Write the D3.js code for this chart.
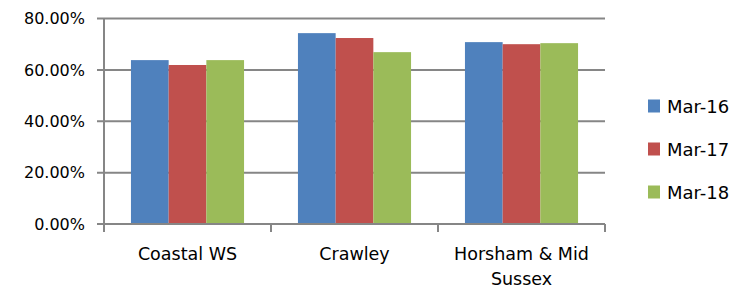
<!DOCTYPE html>
<html><head><meta charset="utf-8">
<script src="https://cdn.jsdelivr.net/npm/d3@7"></script>
<style>body{margin:0;background:#fff}svg{display:block}text{font-family:"DejaVu Sans",sans-serif;fill:#000}</style>
</head><body>
<svg id="c" width="734" height="288"></svg>
<script>
const categories = ["Coastal WS", "Crawley", "Horsham & Mid Sussex"];
const categoryLines = [["Coastal WS"], ["Crawley"], ["Horsham & Mid", "Sussex"]];
const seriesNames = ["Mar-16", "Mar-17", "Mar-18"];
const mar16 = [63.8, 74.3, 70.8];
const mar17 = [61.9, 72.4, 70.0];
const mar18 = [63.8, 66.9, 70.4];
const seriesValues = [mar16, mar17, mar18];
const colors = ["#4F81BD", "#C0504D", "#9BBB59"];
const yTicks = [0, 20, 40, 60, 80];

(function () {
const svg = d3.select("#c");
const pLeft = 104, pRight = 605, pTop = 18.5, pBottom = 224;
const grey = "#868686";

const x0 = d3.scaleBand().domain(categories).range([pLeft, pRight]).padding(0);
const x1 = d3.scaleBand().domain(seriesNames).range([0, x0.bandwidth()]).paddingInner(0).paddingOuter(0.715);
const y = d3.scaleLinear().domain([0, 80]).range([pBottom, pTop]);

// gridlines
svg.append("g").selectAll("line").data(yTicks).join("line")
  .attr("x1", pLeft - 7).attr("x2", pRight)
  .attr("y1", d => y(d)).attr("y2", d => y(d))
  .attr("stroke", grey).attr("stroke-width", 2);

// bars
const g = svg.append("g");
categories.forEach((c, ci) => {
  seriesNames.forEach((s, si) => {
    const v = seriesValues[si][ci];
    g.append("rect")
      .attr("x", x0(c) + x1(s))
      .attr("y", y(v))
      .attr("width", x1.bandwidth())
      .attr("height", y(0) - y(v))
      .attr("fill", colors[si]);
  });
});

// y axis line
svg.append("line").attr("x1", pLeft).attr("x2", pLeft).attr("y1", pTop).attr("y2", pBottom + 8)
  .attr("stroke", grey).attr("stroke-width", 2);
// baseline
svg.append("line").attr("x1", pLeft - 7).attr("x2", pRight).attr("y1", y(0)).attr("y2", y(0))
  .attr("stroke", grey).attr("stroke-width", 2);
// category ticks
const catTicks = categories.map(c => x0(c)).concat([pRight]);
svg.append("g").selectAll("line").data(catTicks).join("line")
  .attr("x1", d => d).attr("x2", d => d)
  .attr("y1", pBottom).attr("y2", pBottom + 8)
  .attr("stroke", grey).attr("stroke-width", 2);

// y labels
svg.append("g").selectAll("text").data(yTicks).join("text")
  .attr("x", 85).attr("y", d => y(d) + 5.8)
  .attr("text-anchor", "end").style("font-size", "16px")
  .text(d => d.toFixed(2) + "%");

// category labels
categories.forEach((c, ci) => {
  const cx = x0(c) + x0.bandwidth() / 2;
  categoryLines[ci].forEach((ln, li) => {
    svg.append("text").attr("x", cx).attr("y", 260 + li * 25)
      .attr("text-anchor", "middle").style("font-size", "17.5px").text(ln);
  });
});

// legend
const lg = svg.append("g");
seriesNames.forEach((s, i) => {
  const cy = 106 + i * 43;
  lg.append("rect").attr("x", 648).attr("y", cy - 6.5).attr("width", 12).attr("height", 13).attr("fill", colors[i]);
  lg.append("text").attr("x", 667).attr("y", cy + 6.5).style("font-size", "18px").text(s);
});
})();
</script>
</body></html>
